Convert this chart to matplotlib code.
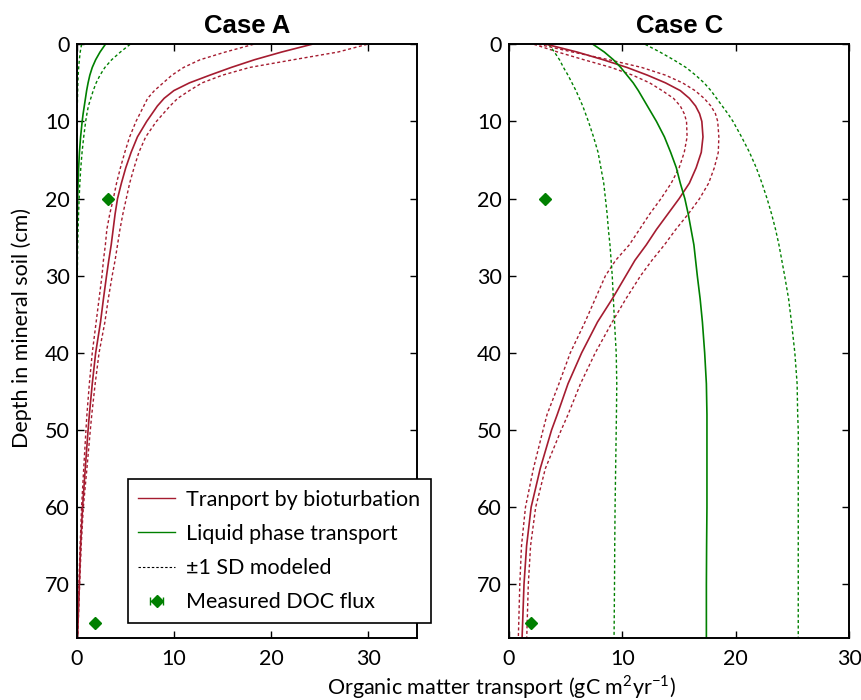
import numpy as np
import matplotlib
matplotlib.use("Agg")
import matplotlib.pyplot as plt
from matplotlib.lines import Line2D
from matplotlib.container import ErrorbarContainer
from matplotlib.legend_handler import HandlerErrorbar

plt.rcParams['font.family'] = ['Lato', 'DejaVu Sans']
plt.rcParams['mathtext.fontset'] = 'custom'
plt.rcParams['mathtext.rm'] = 'Lato'

RED = "#a51c30"
GREEN = "#008000"
DOT = (0, (2.2, 1.8))

# depth grid (cm)
depth = [0, 1, 2, 3, 4, 5, 6, 7, 8, 9, 10, 12, 14, 16, 18, 20, 22, 24, 26, 28,
         30, 33, 36, 40, 44, 48, 50, 55, 60, 65, 70, 77]

# Case A
bio_a = [24.2, 21.1, 18.3, 15.9, 13.7, 11.6, 10.0, 9.0, 8.3, 7.75, 7.2, 6.25, 5.6,
         5.05, 4.6, 4.2, 3.95, 3.75, 3.55, 3.3, 3.07, 2.75, 2.45, 1.95, 1.6, 1.3,
         1.17, 0.88, 0.6, 0.4, 0.27, 0.08]
bio_a_lo = [18.2, 15.3, 12.7, 11.0, 9.8, 8.9, 8.0, 7.3, 6.9, 6.5, 6.1, 5.45, 4.95,
            4.5, 4.1, 3.77, 3.4, 3.1, 2.95, 2.75, 2.6, 2.3, 2.0, 1.6, 1.3, 1.05, 0.95,
            0.72, 0.5, 0.35, 0.22, 0.06]
bio_a_hi = [29.9, 26.9, 22.3, 17.8, 15.0, 12.9, 11.6, 10.4, 9.6, 8.9, 8.2, 7.1, 6.4,
            5.9, 5.45, 5.1, 4.75, 4.45, 4.2, 3.95, 3.65, 3.25, 2.9, 2.3, 1.9, 1.55,
            1.4, 1.05, 0.68, 0.46, 0.3, 0.1]
liq_a = [2.95, 2.4, 1.95, 1.6, 1.35, 1.17, 1.02, 0.9, 0.78, 0.66, 0.56, 0.4, 0.28,
         0.2, 0.14, 0.1, 0.07, 0.05, 0.04, 0.03, 0.02, 0.02, 0.02, 0.01, 0.01, 0.01,
         0.01, 0.01, 0.01, 0.01, 0.01, 0.01]
liq_a_lo = [0.5, 0.36, 0.27, 0.2, 0.15, 0.12, 0.1, 0.08, 0.06, 0.05, 0.04, 0.03,
            0.03, 0.02, 0.02, 0.02, 0.01, 0.01, 0.01, 0.01, 0.01, 0.01, 0.01, 0.01,
            0.01, 0.01, 0.01, 0.01, 0.01, 0.01, 0.01, 0.01]
liq_a_hi = [5.5, 4.5, 3.6, 2.9, 2.4, 2.0, 1.7, 1.45, 1.2, 1.05, 0.92, 0.72, 0.55,
            0.42, 0.32, 0.25, 0.19, 0.14, 0.1, 0.08, 0.06, 0.04, 0.03, 0.02, 0.02,
            0.02, 0.02, 0.02, 0.02, 0.02, 0.02, 0.02]

# Case C
bio_c = [3.3, 6.0, 8.3, 10.4, 12.2, 13.8, 15.1, 15.9, 16.45, 16.8, 17.0, 17.1, 16.95,
         16.5, 15.9, 15.0, 14.0, 13.0, 12.1, 11.1, 10.3, 9.1, 7.8, 6.4, 5.2, 4.25,
         3.75, 2.75, 1.95, 1.55, 1.32, 1.15]
bio_c_lo = [2.2, 4.3, 6.6, 9.0, 10.9, 12.4, 13.5, 14.5, 15.1, 15.45, 15.65, 15.7,
            15.45, 15.0, 14.3, 13.4, 12.4, 11.5, 10.6, 9.4, 8.5, 7.6, 6.7, 5.4, 4.4,
            3.35, 3.0, 2.15, 1.45, 1.1, 0.95, 0.82]
bio_c_hi = [2.6, 5.6, 8.8, 11.7, 13.8, 15.3, 16.4, 17.2, 17.8, 18.2, 18.4, 18.5,
            18.45, 18.1, 17.6, 16.8, 15.8, 14.7, 13.7, 12.6, 11.6, 10.3, 9.1, 7.6,
            6.3, 5.2, 4.6, 3.2, 2.35, 1.9, 1.7, 1.56]
liq_c = [7.4, 8.4, 9.2, 9.85, 10.4, 10.95, 11.4, 11.8, 12.2, 12.6, 13.0, 13.7, 14.25,
         14.75, 15.1, 15.5, 15.8, 16.05, 16.3, 16.45, 16.6, 16.85, 17.05, 17.25, 17.4,
         17.45, 17.45, 17.45, 17.45, 17.42, 17.4, 17.4]
liq_c_lo = [3.5, 4.0, 4.45, 4.8, 5.2, 5.55, 5.9, 6.2, 6.5, 6.75, 7.0, 7.45, 7.85, 8.1,
            8.35, 8.5, 8.65, 8.76, 8.9, 9.0, 9.1, 9.2, 9.3, 9.45, 9.5, 9.47, 9.45,
            9.4, 9.35, 9.32, 9.3, 9.26]
liq_c_hi = [12.0, 13.3, 14.5, 15.6, 16.45, 17.2, 17.8, 18.3, 18.8, 19.3, 19.75, 20.5,
            21.2, 21.8, 22.3, 22.75, 23.15, 23.5, 23.8, 24.05, 24.3, 24.65, 24.9, 25.2,
            25.4, 25.45, 25.5, 25.5, 25.5, 25.5, 25.5, 25.5]

# measured DOC flux
doc_depth = [20, 75]
doc_flux = [3.2, 1.9]
doc_err = [0.15, 0.15]

fig = plt.figure(figsize=(8.61, 7.0), dpi=100)
ax_a = fig.add_axes([0.0891, 0.0881, 0.3949, 0.8486])
ax_c = fig.add_axes([0.5912, 0.0881, 0.3952, 0.8486])

panels = [
    (ax_a, "Case A", bio_a, bio_a_lo, bio_a_hi, liq_a, liq_a_lo, liq_a_hi, 35),
    (ax_c, "Case C", bio_c, bio_c_lo, bio_c_hi, liq_c, liq_c_lo, liq_c_hi, 30),
]

for ax, title, bio, bio_lo, bio_hi, liq, liq_lo, liq_hi, xmax in panels:
    ax.plot(bio_lo, depth, color=RED, lw=1, ls=DOT)
    ax.plot(bio_hi, depth, color=RED, lw=1, ls=DOT)
    ax.plot(liq_lo, depth, color=GREEN, lw=1, ls=DOT)
    ax.plot(liq_hi, depth, color=GREEN, lw=1, ls=DOT)
    ax.plot(bio, depth, color=RED, lw=1.2)
    ax.plot(liq, depth, color=GREEN, lw=1.2)
    ax.errorbar(doc_flux, doc_depth, xerr=doc_err, fmt='D', color=GREEN,
                ms=6.5, capsize=3, elinewidth=1)
    ax.set_xlim(0, xmax)
    ax.set_ylim(77, 0)
    ax.set_xticks([0, 10, 20, 30])
    ax.set_yticks([0, 10, 20, 30, 40, 50, 60, 70])
    ax.tick_params(direction='in', length=5, width=1, labelsize=15.5,
                   top=True, right=True)
    ax.tick_params(axis='x', pad=8)
    ax.tick_params(axis='y', pad=5)
    for sp in ax.spines.values():
        sp.set_linewidth(1.4)
    ax.set_title(title, fontsize=18.5, fontweight='bold',
                 family='Liberation Sans', pad=8)

handles = [
    Line2D([], [], color=RED, lw=1),
    Line2D([], [], color=GREEN, lw=1),
    Line2D([], [], color='black', lw=0.8, ls=DOT),
    ax_a.containers[0],
]
labels = ["Tranport by bioturbation", "Liquid phase transport",
          "\u00b11 SD modeled", "Measured DOC flux"]
leg = ax_a.legend(handles, labels, loc='upper left',
                  bbox_to_anchor=(127.7 / 861, 1 - 479 / 700),
                  bbox_transform=fig.transFigure, borderaxespad=0,
                  fontsize=15.5, frameon=True, fancybox=False, framealpha=1,
                  edgecolor='black', handlelength=1.7, handletextpad=0.5,
                  labelspacing=0.66, borderpad=0.5,
                  handler_map={ErrorbarContainer: HandlerErrorbar(xerr_size=0.3)})
leg.get_frame().set_linewidth(1.2)

fig.text(0.5825, 0.018, "Organic matter transport (gC m$^2$yr$^{-1}$)",
         ha='center', va='center', fontsize=15.5)
fig.text(0.025, 0.531, "Depth in mineral soil (cm)", rotation=90,
         ha='center', va='center', fontsize=15.5)

fig.savefig("out.png", dpi=100)
